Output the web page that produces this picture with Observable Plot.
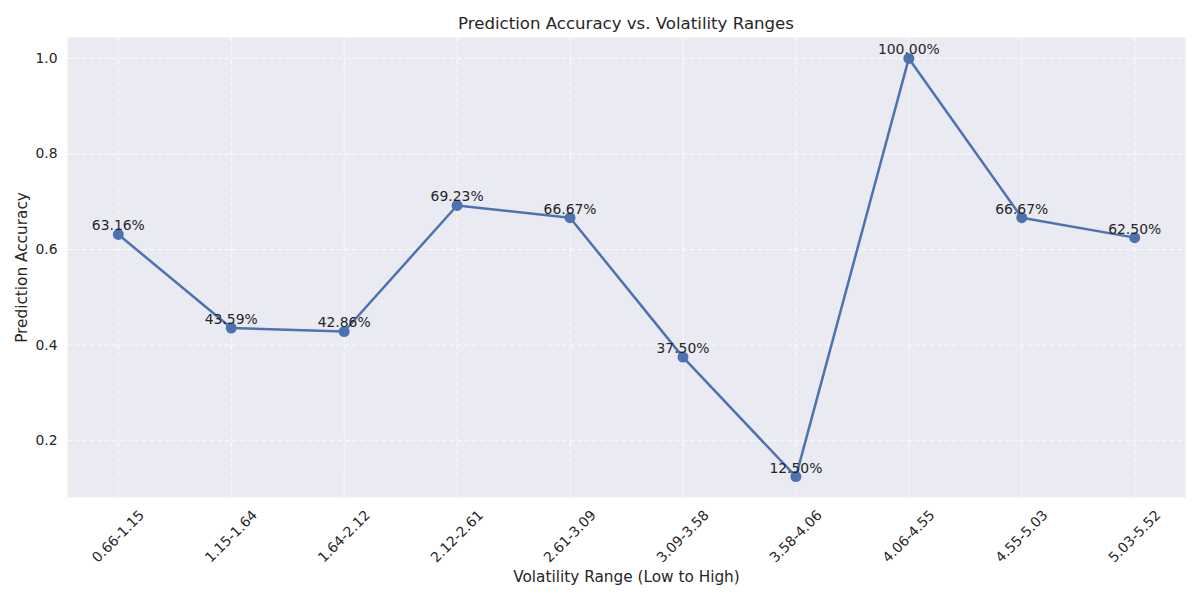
<!DOCTYPE html>
<html><head><meta charset="utf-8">
<script src="https://cdn.jsdelivr.net/npm/d3@7"></script>
<script src="https://cdn.jsdelivr.net/npm/@observablehq/plot@0.6"></script>
<style>
body{margin:0;background:#fff;font-family:"DejaVu Sans",sans-serif;}
#title{box-sizing:border-box;width:1200px;height:37px;padding:14px 15px 0 67px;text-align:center;font-size:16.6px;line-height:20px;color:#262626;}
#chart svg{display:block;}
</style></head><body>
<div id="title">Prediction Accuracy vs. Volatility Ranges</div>
<div id="chart"></div>
<script>
const ranges = ["0.66-1.15","1.15-1.64","1.64-2.12","2.12-2.61","2.61-3.09","3.09-3.58","3.58-4.06","4.06-4.55","4.55-5.03","5.03-5.52"];
const accuracy = [0.6316,0.4359,0.4286,0.6923,0.6667,0.3750,0.1250,1.0000,0.6667,0.6250];
const yTicks = [0.2,0.4,0.6,0.8,1.0];
const xLabel = "Volatility Range (Low to High)";
const yLabel = "Prediction Accuracy";

const data = ranges.map((r,i)=>({range:r, acc:accuracy[i]}));
const gridStyle = {stroke:"#fff", strokeOpacity:0.85, strokeDasharray:"5,2.5", strokeWidth:1};
const plot = Plot.plot({
  width:1200, height:563, marginTop:0, marginBottom:103, marginLeft:67, marginRight:15,
  style:{fontFamily:"DejaVu Sans", fontSize:"13.9px", color:"#262626", background:"#fff"},
  x:{type:"point", domain:ranges, padding:0.45, round:false, axis:null},
  y:{domain:[0.08125,1.04375], axis:null},
  marks:[
    Plot.frame({fill:"#EAEAF2", stroke:null}),
    Plot.gridX(ranges, gridStyle),
    Plot.gridY(yTicks, gridStyle),
    Plot.axisY(yTicks, {tickSize:0, tickPadding:10, tickFormat:d=>d.toFixed(1), label:null, fontSize:13.9}),
    Plot.text(ranges, {x:d=>d, frameAnchor:"bottom", dy:39, rotate:-45, textAnchor:"middle", lineAnchor:"middle", fontSize:13.9, fill:"#262626"}),
    Plot.text([xLabel], {frameAnchor:"bottom", dy:80, textAnchor:"middle", lineAnchor:"middle", fontSize:15.3, fill:"#262626"}),
    Plot.text([yLabel], {frameAnchor:"left", dx:-45, rotate:-90, textAnchor:"middle", lineAnchor:"middle", fontSize:15.3, fill:"#262626"}),
    Plot.line(data, {x:"range", y:"acc", stroke:"#4C72B0", strokeWidth:2.5}),
    Plot.dot(data, {x:"range", y:"acc", r:5.5, fill:"#4C72B0"}),
    Plot.text(data, {x:"range", y:"acc", text:d=>(d.acc*100).toFixed(2)+"%", lineAnchor:"bottom", dy:-4, fontSize:13.9, fill:"#262626"})
  ]
});
document.getElementById("chart").appendChild(plot);
</script>
</body></html>
